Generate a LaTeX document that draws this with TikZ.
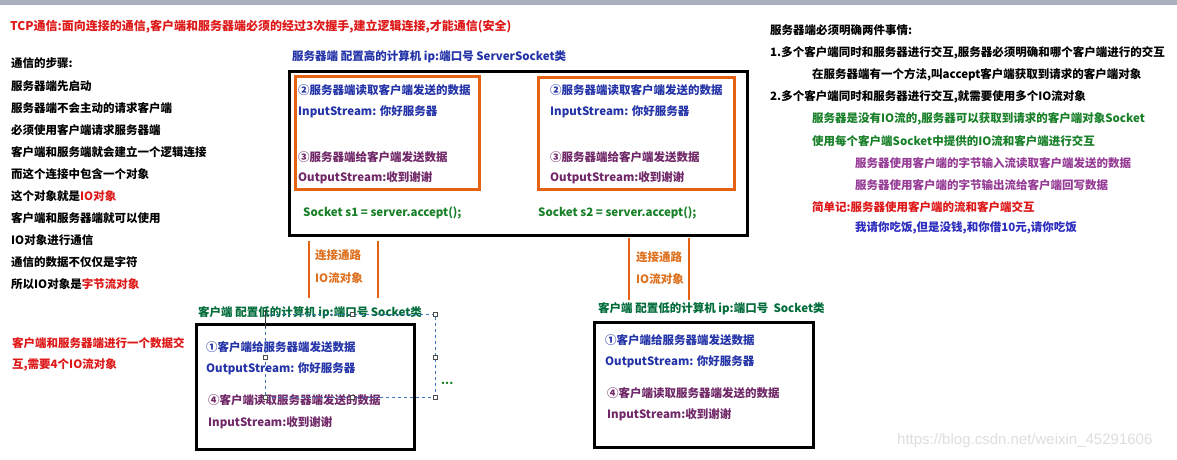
\documentclass[tikz,border=0pt]{standalone}
\usepackage{fontspec}
\setmainfont{Noto Sans CJK SC}
\newfontfamily\wmfont{Liberation Sans}
\usetikzlibrary{positioning}

\definecolor{hired}{RGB}{222,24,24}
\definecolor{srvblue}{RGB}{36,52,168}
\definecolor{srvpurple}{RGB}{112,40,104}
\definecolor{codegreen}{RGB}{24,128,40}
\definecolor{cligreen}{RGB}{0,108,58}
\definecolor{linkorange}{RGB}{228,98,18}
\definecolor{txtorange}{RGB}{222,112,30}
\definecolor{notepurple}{RGB}{150,60,150}
\definecolor{noteblue}{RGB}{44,44,190}
\definecolor{topgray}{RGB}{168,176,190}
\definecolor{selblue}{RGB}{60,115,185}

\tikzset{
  txt/.style={anchor=west, inner sep=0pt, font=\bfseries\fontsize{11.5}{13}\selectfont},
  bigbox/.style={draw=black, line width=3pt, anchor=north west, inner sep=0pt},
  innerbox/.style={draw=linkorange, line width=2.5pt, anchor=north west, inner sep=0pt},
  link/.style={draw=linkorange, line width=2.5pt},
  sel/.style={draw=selblue, dashed, line width=0.8pt},
  handle/.style={draw=black!70, fill=white, line width=0.5pt, minimum size=4pt, inner sep=0pt}
}

\begin{document}
\begin{tikzpicture}[x=1pt,y=-1pt]
\useasboundingbox (0,0) rectangle (1177,460);
\fill[white] (0,0) rectangle (1177,460);
\fill[topgray] (0,0) rectangle (1177,5);

% title
\node[txt, text=hired, font=\bfseries\fontsize{12}{14}\selectfont] (title) at (10,27)
{TCP通信:面向连接的通信,客户端和服务器端必须的经过3次握手,建立逻辑连接,才能通信(安全)};

% steps on the left
\node[txt] (s0) at (11,63) {通信的步骤:};
\node[txt] (s1) at (11,86) {服务器端先启动};
\node[txt] (s2) at (11,108) {服务器端不会主动的请求客户端};
\node[txt] (s3) at (11,130) {必须使用客户端请求服务器端};
\node[txt] (s4) at (11,152) {客户端和服务端就会建立一个逻辑连接};
\node[txt] (s5) at (11,174) {而这个连接中包含一个对象};
\node[txt] (s6) at (11,196) {这个对象就是{\color{hired}IO对象}};
\node[txt] (s7) at (11,218) {客户端和服务器端就可以使用};
\node[txt] (s8) at (11,240) {IO对象进行通信};
\node[txt] (s9) at (11,262) {通信的数据不仅仅是字符};
\node[txt] (s10) at (11,284) {所以IO对象是{\color{hired}字节流对象}};

\node[txt, text=hired] (n1) at (12,343) {客户端和服务器端进行一个数据交};
\node[txt, text=hired] (n2) at (12,365) {互,需要4个IO流对象};

% server
\node[txt, text=srvblue] (srvtitle) at (292,57) {服务器端 配置高的计算机 ip:端口号 ServerSocket类};
\node[bigbox, minimum width=458pt, minimum height=164pt] (server) at (288,70) {};
\node[innerbox, minimum width=184pt, minimum height=113pt] (io1) at (294,75) {};
\node[innerbox, minimum width=196pt, minimum height=112pt] (io2) at (537,76) {};

\node[txt, text=srvblue] (r1) at (298,90) {②服务器端读取客户端发送的数据};
\node[txt, text=srvblue] (i1) at (298,112) {InputStream: 你好服务器};
\node[txt, text=srvpurple] (w1) at (298,157) {③服务器端给客户端发送数据};
\node[txt, text=srvpurple] (o1) at (298,178) {OutputStream:收到谢谢};
\node[txt, text=codegreen] (acc1) at (303,213) {Socket s1 = server.accept();};

\node[txt, text=srvblue] (r2) at (550,90) {②服务器端读取客户端发送的数据};
\node[txt, text=srvblue] (i2) at (550,112) {InputStream: 你好服务器};
\node[txt, text=srvpurple] (w2) at (550,157) {③服务器端给客户端发送数据};
\node[txt, text=srvpurple] (o2) at (550,178) {OutputStream:收到谢谢};
\node[txt, text=codegreen] (acc2) at (538,213) {Socket s2 = server.accept();};

% connections
\coordinate (la1) at (309,241);
\coordinate (la2) at (309,298);
\coordinate (lb1) at (378,241);
\coordinate (lb2) at (378,298);
\draw[link] (la1) -- (la2);
\draw[link] (lb1) -- (lb2);
\node[txt, text=txtorange] (pathL) at (315,255) {连接通路};
\node[txt, text=txtorange] (ioL) at (315,278) {IO流对象};

\coordinate (ra1) at (629,238);
\coordinate (ra2) at (629,300);
\coordinate (rb1) at (689,238);
\coordinate (rb2) at (689,300);
\draw[link] (ra1) -- (ra2);
\draw[link] (rb1) -- (rb2);
\node[txt, text=txtorange] (pathR) at (636,257) {连接通路};
\node[txt, text=txtorange] (ioR) at (636,279) {IO流对象};

% client left
\node[txt, text=cligreen] (clititleL) at (198,313) {客户端 配置低的计算机 ip:端口号 Socket类};
\node[bigbox, minimum width=218pt, minimum height=125pt] (clientL) at (195,323) {};
\node[txt, text=srvblue] (sendL) at (206,347) {①客户端给服务器端发送数据};
\node[txt, text=srvblue] (outL) at (206,369) {OutputStream: 你好服务器};
\node[txt, text=srvpurple] (readL) at (208,400) {④客户端读取服务器端发送的数据};
\node[txt, text=srvpurple] (inL) at (208,423) {InputStream:收到谢谢};

% selection frame
\coordinate (selTL) at (265,314);
\coordinate (selBR) at (435,397);
\draw[sel] (selTL) rectangle (selBR);
\draw[black!80, line width=0.8pt] (265,310) -- (265,328);
\node[handle] (h1) at (265,357) {};
\node[handle] (h2) at (265,397) {};
\node[handle] (h3) at (352,397) {};
\node[handle] (h4) at (435,397) {};
\node[handle] (h5) at (435,357) {};
\node[handle] (h6) at (435,314) {};
\node[handle] (h7) at (352,314) {};
\node[txt, text=codegreen] (more) at (441,383) {...};

% client right
\node[txt, text=cligreen] (clititleR) at (598,309) {客户端 配置低的计算机 ip:端口号\ \ Socket类};
\node[bigbox, minimum width=219pt, minimum height=125pt] (clientR) at (593,321) {};
\node[txt, text=srvblue] (sendR) at (605,340) {①客户端给服务器端发送数据};
\node[txt, text=srvblue] (outR) at (605,362) {OutputStream: 你好服务器};
\node[txt, text=srvpurple] (readR) at (607,393) {④客户端读取服务器端发送的数据};
\node[txt, text=srvpurple] (inR) at (607,415) {InputStream:收到谢谢};

% notes on the right
\node[txt] (m0) at (770,30) {服务器端必须明确两件事情:};
\node[txt] (m1) at (770,53) {1.多个客户端同时和服务器进行交互,服务器必须明确和哪个客户端进行的交互};
\node[txt] (m2) at (812,75) {在服务器端有一个方法,叫accept客户端获取到请求的客户端对象};
\node[txt] (m3) at (770,97) {2.多个客户端同时和服务器进行交互,就需要使用多个IO流对象};
\node[txt, text=codegreen] (m4) at (812,119) {服务器是没有IO流的,服务器可以获取到请求的客户端对象Socket};
\node[txt, text=codegreen] (m5) at (812,141) {使用每个客户端Socket中提供的IO流和客户端进行交互};
\node[txt, text=notepurple] (m6) at (855,163) {服务器使用客户端的字节输入流读取客户端发送的数据};
\node[txt, text=notepurple] (m7) at (855,185) {服务器使用客户端的字节输出流给客户端回写数据};
\node[txt, text=hired] (m8) at (812,207) {简单记:服务器使用客户端的流和客户端交互};
\node[txt, text=noteblue] (m9) at (855,228) {我请你吃饭,但是没钱,和你借10元,请你吃饭};

\node[anchor=west, inner sep=0pt, text=black!13, font=\wmfont\fontsize{15}{17}\selectfont] (wm) at (897,441)
{https://blog.csdn.net/weixin\_45291606};
\end{tikzpicture}
\end{document}
